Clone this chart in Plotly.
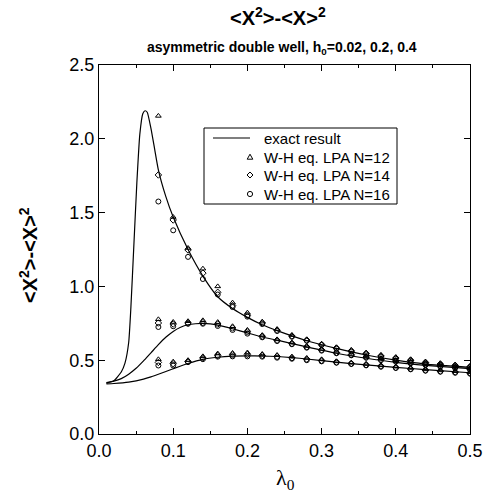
import plotly.graph_objects as go

# Exact curves (three field values h0 = 0.02, 0.2, 0.4)
lam_exact_a = [0.01, 0.02, 0.03, 0.035, 0.04, 0.043, 0.047, 0.051, 0.055, 0.059, 0.062, 0.065, 0.07, 0.075, 0.08, 0.09, 0.10, 0.12, 0.14, 0.16, 0.18, 0.20, 0.22, 0.24, 0.28, 0.32, 0.36, 0.40, 0.44, 0.50]
val_exact_a = [0.345, 0.36, 0.42, 0.48, 0.62, 0.86, 1.28, 1.70, 2.03, 2.17, 2.19, 2.18, 2.07, 1.93, 1.79, 1.61, 1.47, 1.25, 1.07, 0.93, 0.85, 0.79, 0.74, 0.70, 0.632, 0.58, 0.535, 0.50, 0.474, 0.452]

lam_exact_b = [0.01, 0.02, 0.03, 0.04, 0.05, 0.06, 0.07, 0.08, 0.09, 0.10, 0.11, 0.12, 0.13, 0.14, 0.15, 0.16, 0.18, 0.20, 0.22, 0.24, 0.28, 0.32, 0.36, 0.40, 0.44, 0.50]
val_exact_b = [0.348, 0.358, 0.375, 0.405, 0.445, 0.495, 0.55, 0.605, 0.655, 0.695, 0.723, 0.74, 0.747, 0.749, 0.746, 0.738, 0.713, 0.685, 0.657, 0.636, 0.59, 0.547, 0.513, 0.485, 0.465, 0.443]

lam_exact_c = [0.01, 0.02, 0.04, 0.06, 0.07, 0.08, 0.10, 0.12, 0.14, 0.16, 0.18, 0.20, 0.22, 0.24, 0.26, 0.28, 0.32, 0.36, 0.40, 0.44, 0.50]
val_exact_c = [0.339, 0.342, 0.352, 0.372, 0.387, 0.405, 0.442, 0.478, 0.506, 0.52, 0.527, 0.529, 0.528, 0.525, 0.518, 0.508, 0.487, 0.468, 0.452, 0.436, 0.415]

# LPA points
lam_pts = [0.08, 0.10, 0.12, 0.14, 0.16, 0.18, 0.20, 0.22, 0.24, 0.26, 0.28, 0.30, 0.32, 0.34, 0.36, 0.38, 0.40, 0.42, 0.44, 0.46, 0.48, 0.50]

a_n12 = [2.155, 1.47, 1.26, 1.12, 1.00, 0.89, 0.822, 0.761, 0.711, 0.67, 0.641, 0.61, 0.587, 0.569, 0.551, 0.535, 0.52, 0.506, 0.49, 0.479, 0.47, 0.46]
a_n14 = [1.755, 1.45, 1.247, 1.09, 0.96, 0.87, 0.805, 0.752, 0.703, 0.664, 0.636, 0.606, 0.582, 0.563, 0.545, 0.529, 0.515, 0.50, 0.485, 0.474, 0.465, 0.456]
a_n16 = [1.575, 1.38, 1.20, 1.05, 0.945, 0.86, 0.795, 0.745, 0.698, 0.659, 0.632, 0.603, 0.578, 0.558, 0.54, 0.524, 0.51, 0.495, 0.48, 0.47, 0.46, 0.452]

b_n12 = [0.777, 0.759, 0.764, 0.77, 0.758, 0.73, 0.705, 0.67, 0.641, 0.619, 0.596, 0.576, 0.558, 0.542, 0.526, 0.513, 0.50, 0.49, 0.479, 0.467, 0.456, 0.445]
b_n14 = [0.752, 0.745, 0.752, 0.755, 0.745, 0.718, 0.692, 0.662, 0.635, 0.613, 0.59, 0.57, 0.552, 0.537, 0.521, 0.506, 0.495, 0.484, 0.473, 0.461, 0.451, 0.44]
b_n16 = [0.725, 0.73, 0.747, 0.747, 0.732, 0.705, 0.68, 0.655, 0.63, 0.608, 0.585, 0.565, 0.547, 0.533, 0.517, 0.50, 0.49, 0.479, 0.467, 0.456, 0.447, 0.436]

c_n12 = [0.506, 0.49, 0.50, 0.526, 0.545, 0.549, 0.552, 0.542, 0.535, 0.524, 0.515, 0.506, 0.492, 0.483, 0.474, 0.465, 0.456, 0.447, 0.438, 0.431, 0.425, 0.418]
c_n14 = [0.485, 0.476, 0.49, 0.515, 0.532, 0.536, 0.538, 0.532, 0.525, 0.516, 0.507, 0.498, 0.487, 0.478, 0.469, 0.46, 0.451, 0.442, 0.433, 0.426, 0.42, 0.413]
c_n16 = [0.464, 0.464, 0.487, 0.507, 0.524, 0.526, 0.526, 0.524, 0.517, 0.51, 0.50, 0.492, 0.483, 0.474, 0.465, 0.456, 0.447, 0.438, 0.429, 0.422, 0.415, 0.409]

x_ticks = [0.0, 0.1, 0.2, 0.3, 0.4, 0.5]
y_ticks = [0.0, 0.5, 1.0, 1.5, 2.0, 2.5]

legend_labels = ["exact result", "W-H eq. LPA N=12", "W-H eq. LPA N=14", "W-H eq. LPA N=16"]

W, H = 485, 498
ML, MR, MT, MB = 99, 15, 65, 64
PW, PH = W - ML - MR, H - MT - MB


def px(xp):
    return (xp - ML) / PW


def py(yp):
    return (H - MB - yp) / PH


fig = go.Figure()

for lx, ly in [(lam_exact_a, val_exact_a), (lam_exact_b, val_exact_b), (lam_exact_c, val_exact_c)]:
    fig.add_trace(go.Scatter(x=lx, y=ly, mode="lines",
                             line=dict(color="black", width=1.2, shape="spline", smoothing=0.5),
                             name=legend_labels[0], showlegend=False))

symbols = ["triangle-up-open", "diamond-open", "circle-open"]
groups = [[a_n12, b_n12, c_n12], [a_n14, b_n14, c_n14], [a_n16, b_n16, c_n16]]
for name, sym, sets in zip(legend_labels[1:], symbols, groups):
    for ys in sets:
        fig.add_trace(go.Scatter(x=lam_pts, y=ys, mode="markers",
                                 marker=dict(symbol=sym, size=5, color="black", line=dict(width=1, color="black")),
                                 name=name, showlegend=False))

axis_font = dict(family="Liberation Sans, Arial, sans-serif", size=18, color="black")

fig.update_layout(
    width=W, height=H,
    margin=dict(l=ML, r=MR, t=MT, b=MB, autoexpand=False),
    paper_bgcolor="white", plot_bgcolor="white",
    font=dict(family="Liberation Sans, Arial, sans-serif", color="black"),
    xaxis=dict(range=[0, 0.5], tickvals=x_ticks, ticktext=[f"{v:.1f}" for v in x_ticks],
               ticks="inside", ticklen=6, tickwidth=1, tickcolor="black",
               showline=True, linecolor="black", linewidth=1, mirror="ticks",
               showgrid=False, zeroline=False, tickfont=axis_font, automargin=False,
               ticklabeloverflow="allow",
               minor=dict(dtick=0.05, tick0=0, ticks="inside", ticklen=3, tickcolor="black", showgrid=False)),
    yaxis=dict(range=[0, 2.5], tickvals=y_ticks, ticktext=[f"{v:.1f}" for v in y_ticks],
               ticks="inside", ticklen=6, tickwidth=1, tickcolor="black",
               showline=True, linecolor="black", linewidth=1, mirror="ticks",
               showgrid=False, zeroline=False, tickfont=axis_font, automargin=False,
               ticklabeloverflow="allow"),
    showlegend=False,
    hovermode=False,
)

# ---- hand-drawn legend box (paper coordinates) ----
shapes = []
shapes.append(dict(type="rect", xref="paper", yref="paper", x0=px(204), x1=px(397), y0=py(204), y1=py(128),
                   line=dict(color="black", width=1), fillcolor="white", layer="above"))
row_y = [138, 157, 175, 194]
shapes.append(dict(type="line", xref="paper", yref="paper", x0=px(213), x1=px(250), y0=py(row_y[0]), y1=py(row_y[0]),
                   line=dict(color="black", width=1.2), layer="above"))
mx = 250
# triangle
ty = row_y[1]
shapes.append(dict(type="path", xref="paper", yref="paper", layer="above",
                   path=f"M {px(mx-2.8)} {py(ty+2.2)} L {px(mx+2.8)} {py(ty+2.2)} L {px(mx)} {py(ty-2.8)} Z",
                   line=dict(color="black", width=1)))
# diamond
dy = row_y[2]
shapes.append(dict(type="path", xref="paper", yref="paper", layer="above",
                   path=f"M {px(mx-3)} {py(dy)} L {px(mx)} {py(dy-3)} L {px(mx+3)} {py(dy)} L {px(mx)} {py(dy+3)} Z",
                   line=dict(color="black", width=1)))
# circle
cy = row_y[3]
shapes.append(dict(type="circle", xref="paper", yref="paper", layer="above",
                   x0=px(mx-2.6), x1=px(mx+2.6), y0=py(cy+2.6), y1=py(cy-2.6),
                   line=dict(color="black", width=1)))
fig.update_layout(shapes=shapes)

for lab, ry in zip(legend_labels, row_y):
    fig.add_annotation(text=lab, xref="paper", yref="paper", x=px(262), y=py(ry),
                       xanchor="left", yanchor="middle", showarrow=False,
                       font=dict(family="Liberation Sans, Arial, sans-serif", size=15, color="black"))

fig.add_annotation(text="<b>&lt;X<sup>2</sup>&gt;-&lt;X&gt;<sup>2</sup></b>", xref="paper", yref="paper",
                   x=px(278), y=py(17), showarrow=False, xanchor="center", yanchor="middle",
                   font=dict(family="Liberation Sans, Arial, sans-serif", size=20, color="black"))
fig.add_annotation(text="<b>asymmetric double well, h<sub>0</sub>=0.02, 0.2, 0.4</b>", xref="paper", yref="paper",
                   x=px(282), y=py(48), showarrow=False, xanchor="center", yanchor="middle",
                   font=dict(family="Liberation Sans, Arial, sans-serif", size=14, color="black"))
fig.add_annotation(text="<b>&lt;X<sup>2</sup>&gt;-&lt;X&gt;<sup>2</sup></b>", xref="paper", yref="paper",
                   x=px(28), y=py(255), showarrow=False, xanchor="center", yanchor="middle", textangle=-90,
                   font=dict(family="Liberation Sans, Arial, sans-serif", size=20, color="black"))
fig.add_annotation(text="λ<sub>0</sub>", xref="paper", yref="paper",
                   x=px(285), y=py(479), showarrow=False, xanchor="center", yanchor="middle",
                   font=dict(family="Liberation Serif, Times New Roman, serif", size=22, color="black"))

fig.write_html("out.html", config={"displayModeBar": False, "staticPlot": True},
               post_script="document.body.style.margin='0px';document.body.style.overflow='hidden';")
